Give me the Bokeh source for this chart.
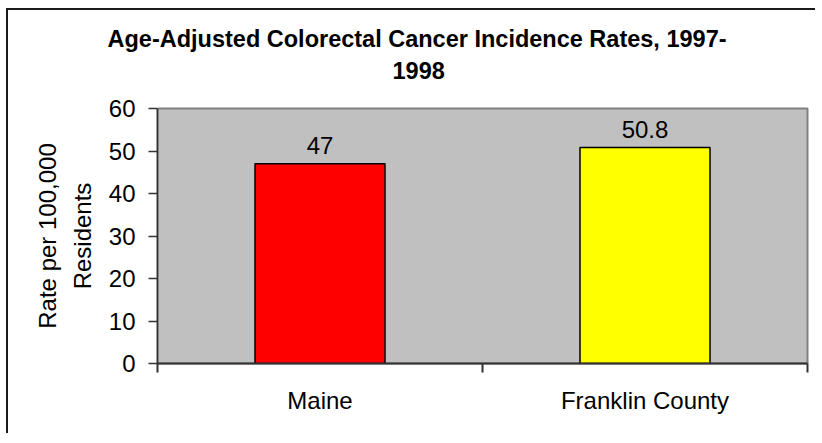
from bokeh.plotting import figure
from bokeh.models import Range1d, FixedTicker, Title, ColumnDataSource, LinearAxis
from bokeh.core.properties import value
from bokeh.embed import file_html
from bokeh.resources import INLINE

# ---- data ----
categories = ["Maine", "Franklin County"]
rates = [47, 50.8]
bar_colors = ["#FF0000", "#FFFF00"]
y_ticks = [0, 10, 20, 30, 40, 50, 60]
title_lines = ["Age-Adjusted Colorectal Cancer Incidence Rates, 1997-", "1998"]
y_label = "Rate per 100,000\nResidents"

FONT = "Liberation Sans"
FS = "24px"

n = len(categories)
centers = [i + 0.5 for i in range(n)]
boundaries = list(range(n + 1))

p = figure(width=809, height=425,
           x_range=Range1d(0, n), y_range=Range1d(0, 60),
           output_backend="svg", toolbar_location=None,
           min_border_left=149, min_border_right=10,
           min_border_top=98, min_border_bottom=72)
p.styles = {"margin-left": "6px", "margin-top": "8px",
            "border-left": "2px solid #1a1a1a", "border-top": "2px solid #1a1a1a"}
p.background_fill_color = "#C0C0C0"
p.border_fill_color = "white"
p.outline_line_color = "#808080"
p.outline_line_width = 2
p.xgrid.visible = False
p.ygrid.visible = False

src = ColumnDataSource(dict(x=centers, top=rates, color=bar_colors,
                            label=[f"{v:g}" for v in rates]))
p.vbar(x="x", top="top", width=0.4, fill_color="color",
       line_color="black", line_width=1.5, source=src)
p.text(x="x", y="top", text="label", text_align="center",
       text_baseline="alphabetic", y_offset=-18,
       text_font=value(FONT), text_font_size=FS, text_color="black",
       source=src)

xa = p.xaxis[0]
xa.ticker = FixedTicker(ticks=centers, minor_ticks=boundaries)
xa.major_label_overrides = {c: cat for c, cat in zip(centers, categories)}
xa.major_tick_line_color = None
xa.major_tick_out = 9
xa.major_tick_in = 0
xa.minor_tick_out = 9
xa.minor_tick_in = 0
xa.minor_tick_line_color = "#333333"
xa.minor_tick_line_width = 2
xa.axis_line_color = "#333333"
xa.axis_line_width = 2
xa.major_label_text_font = FONT
xa.major_label_text_font_size = FS
xa.major_label_text_color = "black"
xa.major_label_standoff = 14

ya = p.yaxis[0]
ya.ticker = FixedTicker(ticks=y_ticks)
ya.minor_tick_line_color = None
ya.major_tick_out = 9
ya.major_tick_in = 0
ya.major_tick_line_color = "#333333"
ya.major_tick_line_width = 1.5
ya.axis_line_color = "#333333"
ya.axis_line_width = 1.5
ya.major_label_text_font = FONT
ya.major_label_text_font_size = FS
ya.major_label_text_color = "black"
ya.major_label_standoff = 13
ya.axis_label = y_label
ya.axis_label_text_font = FONT
ya.axis_label_text_font_style = "normal"
ya.axis_label_text_font_size = FS
ya.axis_label_text_color = "black"
ya.axis_label_standoff = 10
ya.axis_label_text_line_height = 1.3

# blank spacer between the frame and the title lines (white tick on white)
spacer = LinearAxis(ticker=FixedTicker(ticks=[0]), axis_line_color=None,
                    major_tick_line_color="white", major_tick_line_width=1,
                    minor_tick_line_color=None,
                    major_tick_out=25, major_tick_in=0, minor_tick_out=0,
                    major_label_text_font_size="0px", major_label_standoff=0,
                    major_label_text_alpha=0)
p.add_layout(spacer, "above")

t2 = Title(text=title_lines[1], align="left", offset=235, standoff=10,
           text_font=FONT, text_font_style="bold", text_font_size="23.5px",
           text_color="black")
t1 = Title(text=title_lines[0], align="left", offset=-50, standoff=6,
           text_font=FONT, text_font_style="bold", text_font_size="23.5px",
           text_color="black")
p.add_layout(t2, "above")
p.add_layout(t1, "above")

open("out.html", "w").write(file_html(p, INLINE))
